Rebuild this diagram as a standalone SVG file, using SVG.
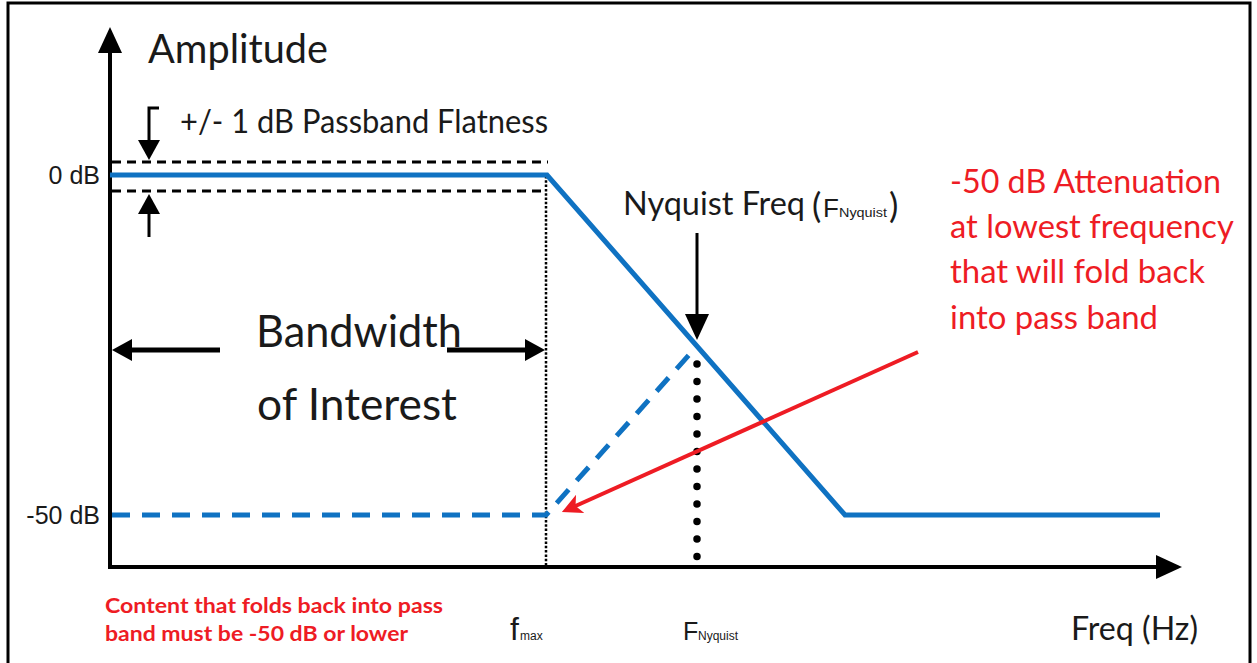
<svg xmlns="http://www.w3.org/2000/svg" width="1257" height="663" viewBox="0 0 1257 663">
<style>
.c{font-family:Lato,"Open Sans","Liberation Sans",sans-serif;fill:#1a1a1a}
.a{font-family:"Liberation Sans",Arial,sans-serif;fill:#1a1a1a}
.r{font-family:Lato,"Open Sans","Liberation Sans",sans-serif;fill:#ee1c24}
.rb{font-family:Lato,"Open Sans","Liberation Sans",sans-serif;fill:#ee1c24;font-weight:bold}
.blk{stroke:#000;fill:none}
.blue{stroke:#0f72c2;fill:none;stroke-width:5}
</style>
<defs>
<marker id="ah" viewBox="0 0 26 24" refX="16" refY="12" markerWidth="26" markerHeight="24" markerUnits="userSpaceOnUse" orient="auto">
<path d="M0,0 L26,12 L0,24 z" fill="#000"/>
</marker>
<marker id="ahs" viewBox="0 0 20 22" refX="10" refY="11" markerWidth="20" markerHeight="22" markerUnits="userSpaceOnUse" orient="auto">
<path d="M0,0 L20,11 L0,22 z" fill="#000"/>
</marker>
<marker id="ahr" viewBox="0 0 20 20" refX="10" refY="10" markerWidth="20" markerHeight="20" markerUnits="userSpaceOnUse" orient="auto">
<path d="M0,0 L20,10 L0,20 L5,10 z" fill="#ee1c24"/>
</marker>
</defs>
<rect x="8" y="3" width="1242" height="680" fill="#fff" stroke="#000" stroke-width="3"/>

<g id="axes">
<line class="blk" x1="110" y1="569" x2="110" y2="37" stroke-width="4" marker-end="url(#ah)"/>
<line class="blk" x1="108" y1="567" x2="1172" y2="567" stroke-width="4" marker-end="url(#ah)"/>
</g>

<g id="flatness-lines">
<line class="blk" x1="112" y1="162" x2="548" y2="162" stroke-width="3" stroke-dasharray="9 6"/>
<line class="blk" x1="112" y1="191" x2="546" y2="191" stroke-width="3" stroke-dasharray="9 6"/>
</g>

<g id="guides">
<line class="blk" x1="546" y1="176" x2="546" y2="567" stroke-width="2.5" stroke-dasharray="2.5 1.8"/>
<line class="blk" x1="697" y1="364" x2="697" y2="567" stroke-width="7.5" stroke-linecap="round" stroke-dasharray="0 17.5"/>
</g>

<g id="response">
<polyline class="blue" points="110,175 547,175 845,515 1160,515"/>
<path class="blue" d="M112,515 H546 L697,346" stroke-dasharray="18 12"/>
</g>

<g id="connectors">
<path class="blk" d="M159,108 H149 V150" stroke-width="3" marker-end="url(#ahs)"/>
<line class="blk" x1="149" y1="237" x2="149" y2="204" stroke-width="3" marker-end="url(#ahs)"/>
<line class="blk" x1="220" y1="350" x2="122" y2="350" stroke-width="5" marker-end="url(#ahs)"/>
<line class="blk" x1="447" y1="350" x2="535" y2="350" stroke-width="5" marker-end="url(#ahs)"/>
<line class="blk" x1="697" y1="233" x2="697" y2="330" stroke-width="3" marker-end="url(#ah)"/>
<line x1="918" y1="352" x2="571" y2="508" stroke="#ee1c24" stroke-width="4" marker-end="url(#ahr)"/>
</g>

<g id="labels">
<text class="c" x="148" y="63" font-size="40" textLength="180" lengthAdjust="spacingAndGlyphs">Amplitude</text>
<text class="c" x="180" y="133" font-size="33" textLength="368" lengthAdjust="spacingAndGlyphs">+/- 1 dB Passband Flatness</text>
<text class="a" x="100" y="184" font-size="25" text-anchor="end">0 dB</text>
<text class="a" x="100" y="524" font-size="25" text-anchor="end">-50 dB</text>
<text class="c" x="256" y="347" font-size="44" textLength="206" lengthAdjust="spacingAndGlyphs">Bandwidth</text>
<text class="c" x="257" y="420" font-size="44" textLength="200" lengthAdjust="spacingAndGlyphs">of Interest</text>
<text class="c" x="623" y="215" font-size="33" textLength="182" lengthAdjust="spacingAndGlyphs">Nyquist Freq</text>
<text class="c" x="812" y="218" font-size="35">(</text>
<text class="a" x="823" y="217" font-size="26">F</text>
<text class="a" x="839" y="217" font-size="12" textLength="48" lengthAdjust="spacingAndGlyphs">Nyquist</text>
<text class="c" x="889" y="218" font-size="35">)</text>
<text class="r" font-size="32">
<tspan x="950" y="193" textLength="271" lengthAdjust="spacingAndGlyphs">-50 dB Attenuation</tspan>
<tspan x="950" y="238" textLength="283" lengthAdjust="spacingAndGlyphs">at lowest frequency</tspan>
<tspan x="950" y="283" textLength="255" lengthAdjust="spacingAndGlyphs">that will fold back</tspan>
<tspan x="950" y="329" textLength="208" lengthAdjust="spacingAndGlyphs">into pass band</tspan>
</text>
<text class="rb" font-size="21">
<tspan x="105" y="613" textLength="338" lengthAdjust="spacingAndGlyphs">Content that folds back into pass</tspan>
<tspan x="105" y="641" textLength="303" lengthAdjust="spacingAndGlyphs">band must be -50 dB or lower</tspan>
</text>
<text class="a" x="510" y="640" font-size="32">f</text>
<text class="a" x="520" y="640" font-size="12">max</text>
<text class="a" x="683" y="640" font-size="25">F</text>
<text class="a" x="698" y="640" font-size="12">Nyquist</text>
<text class="c" x="1071" y="640" font-size="33" textLength="127" lengthAdjust="spacingAndGlyphs">Freq (Hz)</text>
</g>
</svg>
